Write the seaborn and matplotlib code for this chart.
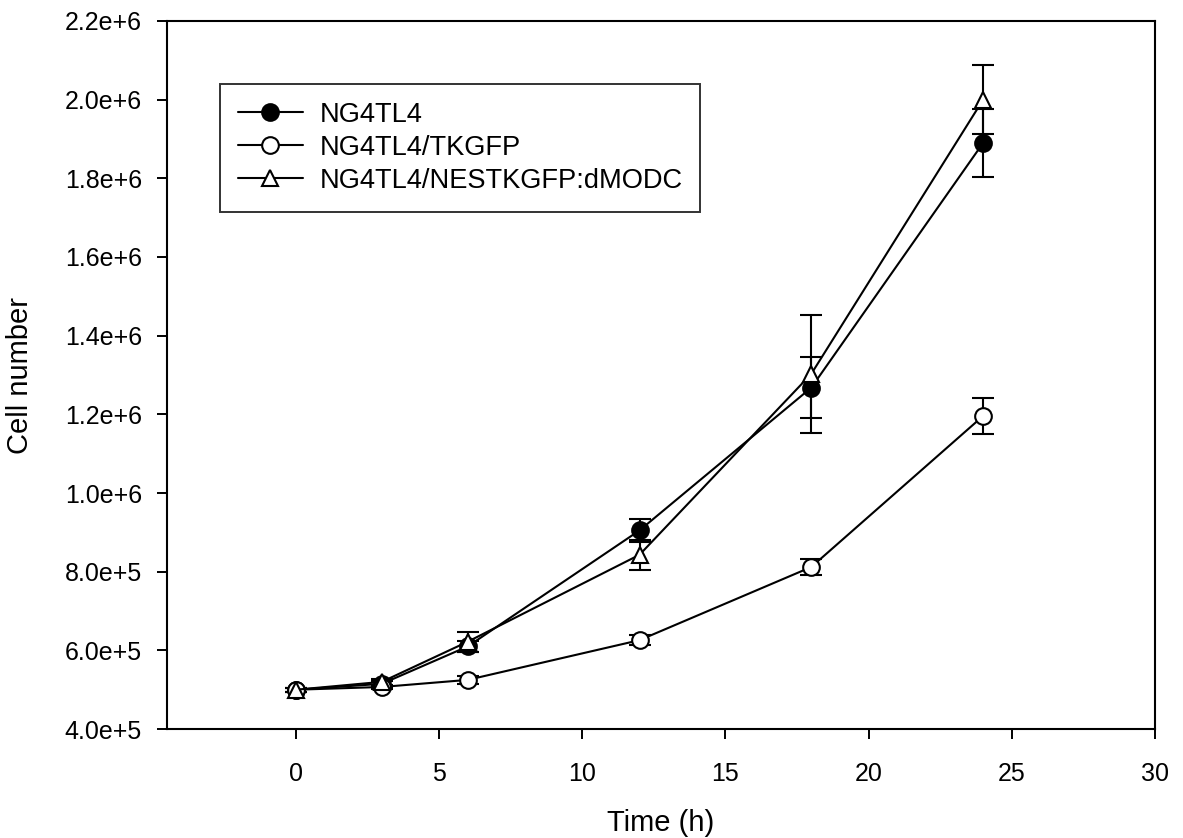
import matplotlib
matplotlib.use("Agg")
import matplotlib.pyplot as plt
from matplotlib.ticker import FuncFormatter, MultipleLocator
import seaborn as sns
import pandas as pd
import numpy as np

# ---- data ----
time_h = [0, 3, 6, 12, 18, 24]
ng4tl4 = [5.0e5, 5.15e5, 6.10e5, 9.05e5, 1.268e6, 1.89e6]
ng4tl4_err = [5e3, 8e3, 1.5e4, 3.0e4, 7.8e4, 8.6e4]
tkgfp = [5.0e5, 5.07e5, 5.25e5, 6.26e5, 8.12e5, 1.196e6]
tkgfp_err = [5e3, 5e3, 1.0e4, 1.2e4, 2.0e4, 4.5e4]
nestkgfp = [5.0e5, 5.20e5, 6.22e5, 8.43e5, 1.303e6, 2.0e6]
nestkgfp_err = [5e3, 8e3, 2.5e4, 3.8e4, 1.5e5, 8.7e4]
series_names = ["NG4TL4", "NG4TL4/TKGFP", "NG4TL4/NESTKGFP:dMODC"]
x_ticks = [0, 5, 10, 15, 20, 25, 30]

sns.set_theme(style="ticks")
plt.rcParams["font.family"] = ["Liberation Sans", "DejaVu Sans"]
plt.rcParams["text.color"] = "black"
plt.rcParams["axes.labelcolor"] = "black"
plt.rcParams["xtick.color"] = "black"
plt.rcParams["ytick.color"] = "black"

fig = plt.figure(figsize=(11.83, 8.38), dpi=100)
ax = fig.add_axes([0.1412, 0.130, 0.9763 - 0.1412, 0.975 - 0.130])

styles = [
    dict(marker="o", markerfacecolor="black", markersize=12),
    dict(marker="o", markerfacecolor="white", markersize=12),
    dict(marker="^", markerfacecolor="white", markersize=12),
]
values = [ng4tl4, tkgfp, nestkgfp]
errors = [ng4tl4_err, tkgfp_err, nestkgfp_err]

for name, vals, errs, st in zip(series_names, values, errors, styles):
    df = pd.DataFrame({"Time (h)": time_h, "Cell number": vals})
    ax.errorbar(time_h, vals, yerr=errs, fmt="none", ecolor="black",
                elinewidth=1.5, capsize=8, capthick=1.5, zorder=2)
    sns.lineplot(data=df, x="Time (h)", y="Cell number", ax=ax, color="black",
                 linewidth=1.5, markeredgecolor="black", markeredgewidth=1.5,
                 label=name, zorder=3, **st)

ax.set_xlim(-4.5, 30)
ax.set_ylim(4e5, 2.2e6)
ax.set_xticks(x_ticks)
ax.yaxis.set_major_locator(MultipleLocator(2e5))


def sci(v, pos):
    if v == 0:
        return "0"
    e = int(np.floor(np.log10(abs(v)) + 1e-9))
    return f"{v / 10**e:.1f}e+{e}"


ax.yaxis.set_major_formatter(FuncFormatter(sci))
ax.tick_params(axis="both", direction="out", length=7, width=1.4, colors="black",
               labelsize=18, labelcolor="black")
ax.tick_params(axis="x", pad=17)
ax.tick_params(axis="y", pad=11)
for sp in ax.spines.values():
    sp.set_visible(True)
    sp.set_linewidth(1.5)
    sp.set_color("black")

ax.set_xlabel("Time (h)", fontsize=21, labelpad=16, color="black")
ax.set_ylabel("Cell number", fontsize=21, labelpad=22, color="black")

leg = ax.legend(loc="upper left", bbox_to_anchor=(0.0536, 0.911), borderaxespad=0,
                fontsize=19.6, frameon=True, fancybox=False, edgecolor="black",
                handlelength=2.4, handletextpad=0.6, labelspacing=0.26,
                borderpad=0.65)
leg.get_frame().set_linewidth(1.4)
for t in leg.get_texts():
    t.set_color("black")

fig.savefig("out.png", dpi=100)
